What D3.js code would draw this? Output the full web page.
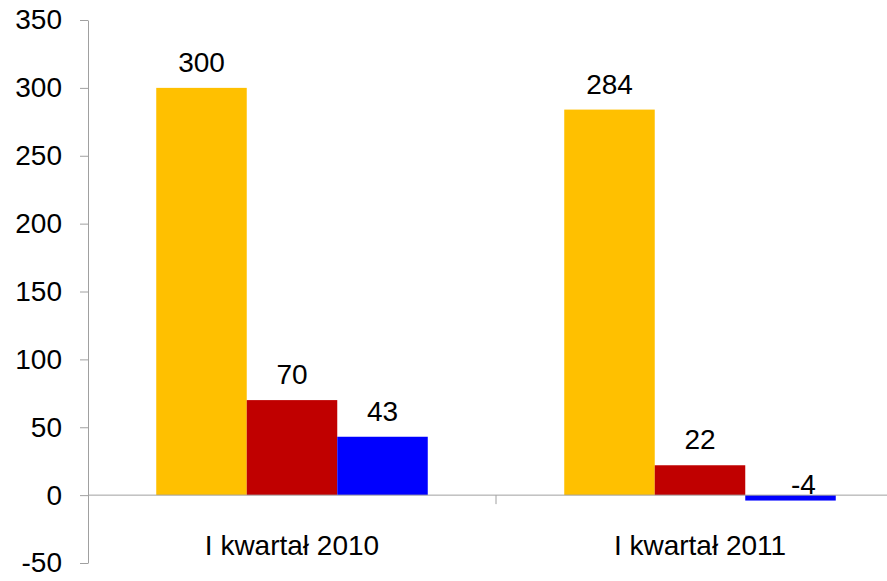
<!DOCTYPE html>
<html>
<head>
<meta charset="utf-8">
<script src="https://cdn.jsdelivr.net/npm/d3@7"></script>
<style>
  body { margin: 0; background: #fff; }
  text { font-family: "Liberation Sans", Arial, sans-serif; fill: #000; }
  .axis path, .axis line { stroke: #a0a0a0; }
</style>
</head>
<body>
<svg id="chart"></svg>
<script>
// Data
const categories = ['I kwartał 2010', 'I kwartał 2011'];
const seriesNames = ['s1', 's2', 's3'];
const seriesColors = ['#FFC000', '#C00000', '#0000FF'];
const values = [
  [300, 70, 43],
  [284, 22, -4]
];
const yTicks = [-50, 0, 50, 100, 150, 200, 250, 300, 350];

const width = 887, height = 581;
const margin = {top: 20, right: -17, bottom: 18, left: 88};
const innerW = width - margin.left - margin.right;
const innerH = height - margin.top - margin.bottom;

const svg = d3.select('#chart')
    .attr('width', width)
    .attr('height', height);

const chart = svg.append('g')
    .attr('transform', `translate(${margin.left},${margin.top})`);

const yScale = d3.scaleLinear()
    .domain([-50, 350])
    .range([innerH, 0]);

const xScale = d3.scaleBand()
    .domain(categories)
    .range([0, innerW])
    .padding(0);

const xSub = d3.scaleBand()
    .domain(seriesNames)
    .range([0, xScale.bandwidth()])
    .paddingInner(0)
    .paddingOuter(0.754);

// Bars
const rows = [];
categories.forEach((c, i) => {
  seriesNames.forEach((s, j) => {
    rows.push({cat: c, series: s, value: values[i][j], color: seriesColors[j]});
  });
});

chart.selectAll('.bar')
    .data(rows)
  .join('rect')
    .attr('class', 'bar')
    .attr('x', d => xScale(d.cat) + xSub(d.series))
    .attr('width', xSub.bandwidth())
    .attr('y', d => yScale(Math.max(0, d.value)))
    .attr('height', d => Math.abs(yScale(d.value) - yScale(0)))
    .attr('fill', d => d.color);

// Value labels
chart.selectAll('.label')
    .data(rows)
  .join('text')
    .attr('class', 'label')
    .attr('x', d => xScale(d.cat) + xSub(d.series) + xSub.bandwidth() / 2 + (d.value < 0 ? 13 : 0))
    .attr('y', d => d.value < 0 ? yScale(0) - 1 : yScale(d.value) - 16)
    .attr('text-anchor', 'middle')
    .style('font-size', '28px')
    .text(d => String(d.value));

// Y axis (plain hyphen for negatives)
const yAxis = d3.axisLeft(yScale)
    .tickValues(yTicks)
    .tickFormat(d => String(d))
    .tickSize(8)
    .tickSizeOuter(0)
    .tickPadding(18);

const yAxisG = chart.append('g')
    .attr('class', 'axis y-axis')
    .call(yAxis);
yAxisG.selectAll('text').style('font-size', '28px');

// X axis at zero
const xAxisG = chart.append('g')
    .attr('class', 'axis x-axis')
    .attr('transform', `translate(0,${yScale(0)})`);

xAxisG.append('line')
    .attr('x1', 0).attr('x2', innerW)
    .attr('y1', 0).attr('y2', 0);

xAxisG.selectAll('.cat-tick')
    .data(categories.slice(1))
  .join('line')
    .attr('class', 'cat-tick')
    .attr('x1', d => xScale(d)).attr('x2', d => xScale(d))
    .attr('y1', 0).attr('y2', 9);

chart.selectAll('.cat-label')
    .data(categories)
  .join('text')
    .attr('class', 'cat-label')
    .attr('x', d => xScale(d) + xScale.bandwidth() / 2)
    .attr('y', yScale(0) + 60)
    .attr('text-anchor', 'middle')
    .style('font-size', '28px')
    .text(d => d);
</script>
</body>
</html>
